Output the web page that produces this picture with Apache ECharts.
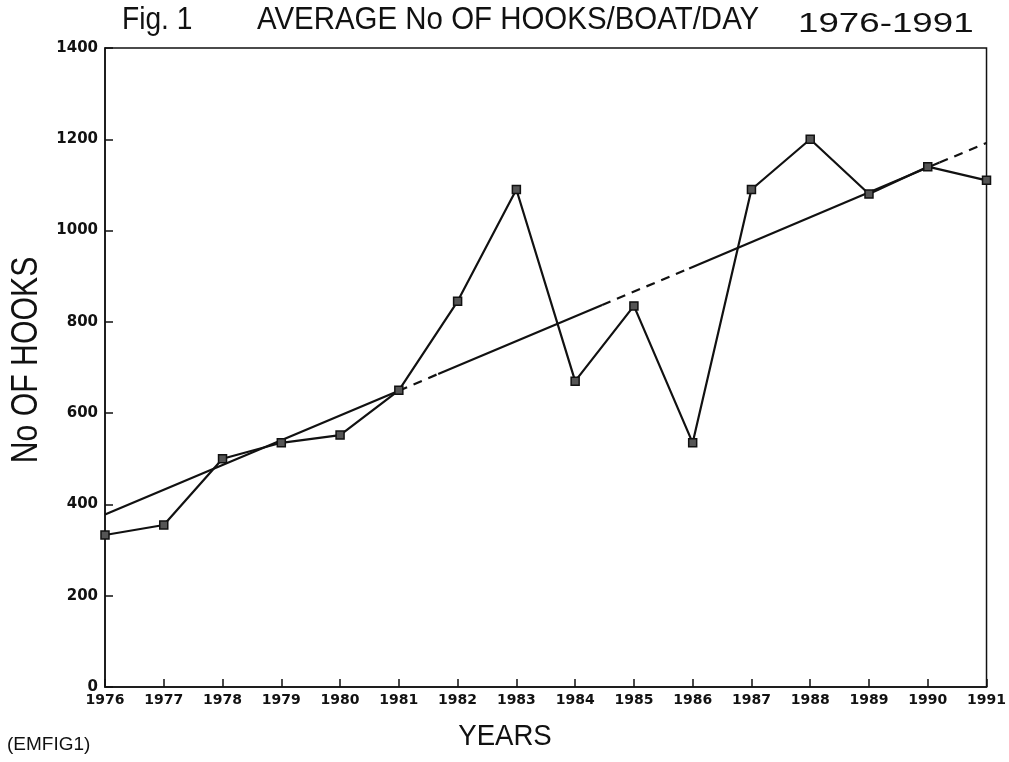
<!DOCTYPE html>
<html><head><meta charset="utf-8">
<script src="https://cdn.jsdelivr.net/npm/echarts@6/dist/echarts.min.js"></script>
<style>html,body{margin:0;padding:0;background:#fff}#c{width:1009px;height:762px}</style>
</head><body><div id="c"></div>
<script>
const years = [1976,1977,1978,1979,1980,1981,1982,1983,1984,1985,1986,1987,1988,1989,1990,1991];
const hooks = [333,355,500,535,552,650,845,1090,670,835,535,1090,1200,1080,1140,1110];
// trend line break points (solid / dashed alternation)
const trendYears  = [1976,1981,1981.67,1984.46,1985.94,1990.2,1991];
const trendValues = [378,649,686,837,917,1149,1192];
const trendDashed = [false,true,false,true,false,true];
const yTicks = [0,200,400,600,800,1000,1200,1400];

const trendSeries = [];
for (let i=0;i<trendYears.length-1;i++){
  trendSeries.push({
    type:'line', symbol:'none', silent:true, z:2,
    data:[[trendYears[i],trendValues[i]],[trendYears[i+1],trendValues[i+1]]],
    lineStyle:{color:'#111',width:2.2,type: trendDashed[i]?[9,7]:'solid'}
  });
}

const F = '"Liberation Sans", Arial, sans-serif';
const chart = echarts.init(document.getElementById('c'));
chart.setOption({
  backgroundColor:'#fff',
  animation:false,
  graphic:[
    {type:'text',x:122,y:36,scaleX:0.88,style:{text:'Fig. 1',font:'32px '+F,fill:'#111',textVerticalAlign:'bottom'}},
    {type:'text',x:257,y:36,scaleX:0.92,style:{text:'AVERAGE No OF HOOKS/BOAT/DAY',font:'32px '+F,fill:'#111',textVerticalAlign:'bottom'}},
    {type:'text',x:798,y:38,scaleX:1.36,style:{text:'1976-1991',font:'27px '+F,fill:'#111',textVerticalAlign:'bottom'}},
    {type:'text',x:27,y:360,rotation:Math.PI/2,scaleX:0.84,style:{text:'No OF HOOKS',font:'36px '+F,fill:'#111',textAlign:'center',textVerticalAlign:'middle'}},
    {type:'text',x:505,y:752,scaleX:0.92,style:{text:'YEARS',font:'30px '+F,fill:'#111',textAlign:'center',textVerticalAlign:'bottom'}},
    {type:'text',x:7,y:754,style:{text:'(EMFIG1)',font:'19px '+F,fill:'#111',textVerticalAlign:'bottom'}}
  ],
  grid:{left:105,right:17,top:48,bottom:75,show:true,borderColor:'#111',borderWidth:1.5,backgroundColor:'transparent'},
  xAxis:{
    type:'value',min:years[0],max:years[years.length-1],interval:1,
    axisLine:{show:true,lineStyle:{color:'#111',width:1.5}},
    axisTick:{show:true,inside:true,length:8,lineStyle:{color:'#111',width:1.5}},
    axisLabel:{margin:6,fontFamily:'DejaVu Sans',fontWeight:'bold',fontSize:14,color:'#111',formatter:v=>String(v)},
    splitLine:{show:false}
  },
  yAxis:{
    type:'value',min:yTicks[0],max:yTicks[yTicks.length-1],interval:200,
    axisLine:{show:true,lineStyle:{color:'#111',width:1.5}},
    axisTick:{show:true,inside:true,length:8,lineStyle:{color:'#111',width:1.5}},
    axisLabel:{margin:7,fontFamily:'DejaVu Sans',fontWeight:'bold',fontSize:15,color:'#111',formatter:v=>String(v)},
    splitLine:{show:false}
  },
  series:[
    ...trendSeries,
    {type:'line',z:3,data:years.map((y,i)=>[y,hooks[i]]),
     symbol:'rect',symbolSize:8,
     itemStyle:{color:'#555',borderColor:'#111',borderWidth:1.5},
     lineStyle:{color:'#111',width:2.2}}
  ]
});
</script></body></html>
